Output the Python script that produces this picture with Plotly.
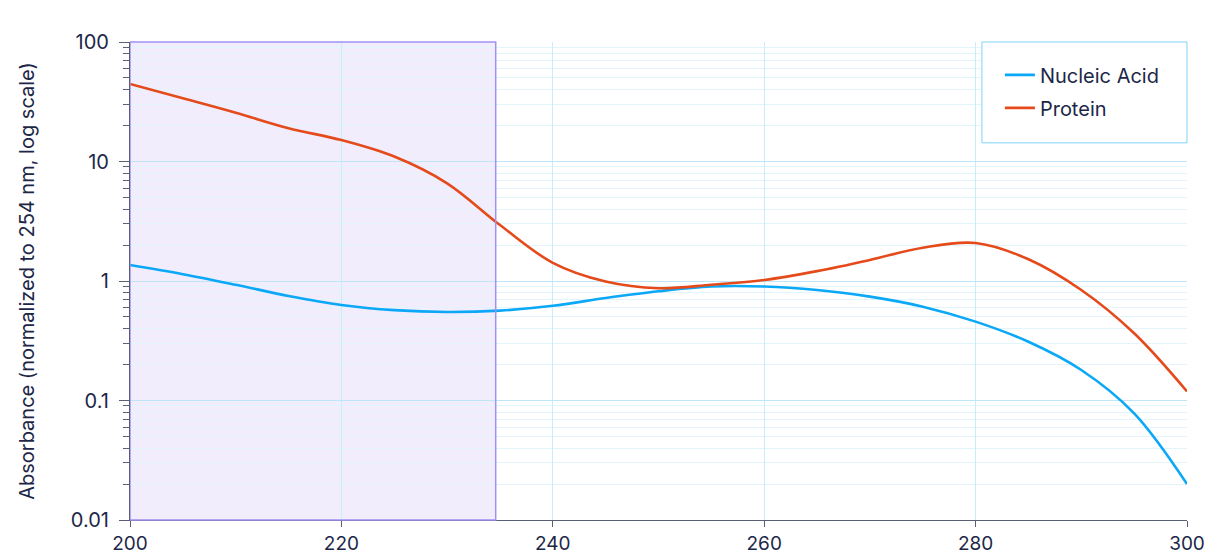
import plotly.graph_objects as go

# wavelength (nm)
wavelength = [200, 205, 210, 215, 220, 225, 230, 235, 240, 245, 250,
              255, 260, 265, 270, 275, 280, 285, 290, 295, 300]

# absorbance, normalized to 254 nm
nucleic_acid = [1.36, 1.14, 0.93, 0.75, 0.63, 0.57, 0.55, 0.565, 0.62, 0.72, 0.82,
                0.90, 0.90, 0.84, 0.74, 0.61, 0.457, 0.31, 0.18, 0.078, 0.02]
protein = [44.5, 33.8, 25.6, 19.0, 15.1, 11.0, 6.57, 2.94, 1.42, 0.99, 0.87,
           0.93, 1.02, 1.21, 1.50, 1.90, 2.08, 1.52, 0.84, 0.365, 0.119]

x_ticks = [200, 220, 240, 260, 280, 300]
shade_range = [200, 234.6]

font_family = "Inter, Noto Sans, sans-serif"
text_color = "#1c2748"
grid_color = "#c9eefb"

fig = go.Figure()
fig.add_trace(go.Scatter(x=wavelength, y=nucleic_acid, name="Nucleic Acid", mode="lines",
                         legendgroup="na",
                         line=dict(color="#0aa8f7", width=2.6, shape="spline", smoothing=1.0)))
fig.add_trace(go.Scatter(x=wavelength, y=protein, name="Protein", mode="lines",
                         legendgroup="pr",
                         line=dict(color="#e54a1b", width=2.6, shape="spline", smoothing=1.0)))

# shaded region: fill under the grid, border drawn on top
fig.add_vrect(x0=shade_range[0], x1=shade_range[1], fillcolor="#f1edfd", opacity=1,
              line=dict(width=0), layer="below")
fig.add_vrect(x0=shade_range[0], x1=shade_range[1], fillcolor="rgba(0,0,0,0)",
              line=dict(color="#a390f2", width=1.5), layer="above")

# legend box
fig.add_shape(type="rect", xref="paper", yref="paper", x0=0.806, x1=1, y0=0.789, y1=1,
              fillcolor="white", line=dict(color="#7fd3f6", width=1), layer="above")

fig.update_layout(
    width=1216, height=548,
    margin=dict(l=122, r=37, t=34, b=36),
    paper_bgcolor="white",
    plot_bgcolor="white",
    font=dict(family=font_family, size=18, color=text_color),
    showlegend=True,
    legend=dict(x=0.823, xanchor="left", y=0.972, yanchor="top",
                bgcolor="rgba(0,0,0,0)", borderwidth=0,
                font=dict(size=20, color=text_color),
                itemwidth=30, tracegroupgap=4),
    xaxis=dict(
        range=[200, 300], tickvals=x_ticks,
        tickfont=dict(size=19),
        automargin=False,
        showgrid=True, gridcolor=grid_color, gridwidth=1,
        showline=True, linecolor="#5a5f73", linewidth=1.2,
        ticks="outside", ticklen=6, tickcolor="#5a5f73",
        zeroline=False,
    ),
    yaxis=dict(
        type="log", range=[-2, 2], dtick=1,
        tickfont=dict(size=20),
        ticklabelstandoff=6,
        automargin=True,
        title=dict(text="Absorbance (normalized to 254 nm, log scale)",
                   font=dict(size=20), standoff=30),
        showgrid=True, gridcolor="#bfe6f8", gridwidth=1,
        showline=True, linecolor="#5a5f73", linewidth=1.2,
        ticks="outside", ticklen=10, tickcolor="#5a5f73",
        minor=dict(ticks="outside", ticklen=6, tickcolor="#5a5f73",
                   showgrid=True, gridcolor="#e2f4fc"),
        zeroline=False,
    ),
)

fig.write_html("out.html")
